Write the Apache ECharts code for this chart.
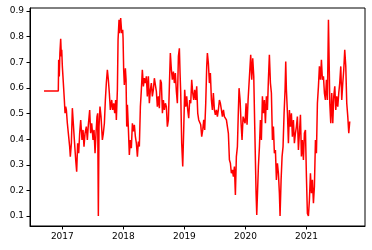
<!DOCTYPE html>
<html>
<head>
<meta charset="utf-8">
<script src="https://cdn.jsdelivr.net/npm/echarts@6/dist/echarts.min.js"></script>
<style>
html,body{margin:0;padding:0;background:#fff;}
#chart{width:372px;height:250px;}
</style>
</head>
<body>
<div id="chart"></div>
<script>
// decimal years
var years = [
2016.70,2016.934,2016.94,2016.95,2016.96,2016.973,2016.984,2016.99,2017.0,2017.01,2017.02,2017.033,2017.044,2017.055,2017.066,2017.082,2017.093,2017.12,2017.131,2017.148,2017.164,2017.186,2017.197,2017.219,2017.235,2017.251,2017.268,2017.284,2017.301,2017.322,2017.339,2017.355,2017.372,2017.393,2017.41,2017.426,2017.448,2017.464,2017.481,2017.503,2017.519,2017.536,2017.552,2017.568,2017.579,2017.59,2017.601,2017.617,2017.634,2017.656,2017.672,2017.689,2017.705,2017.721,2017.738,2017.754,2017.77,2017.787,2017.809,2017.825,2017.842,2017.858,2017.874,2017.885,2017.902,2017.913,2017.929,2017.94,2017.956,
2017.973,2017.989,2017.995,2018.005,2018.016,2018.033,2018.044,2018.055,2018.066,2018.082,2018.098,2018.115,2018.131,2018.148,2018.164,2018.18,2018.197,2018.213,2018.23,2018.246,2018.262,2018.279,2018.295,2018.311,2018.328,2018.344,2018.361,2018.377,2018.393,2018.41,2018.426,2018.443,2018.459,2018.475,2018.492,2018.508,2018.525,2018.541,2018.557,2018.574,2018.59,2018.607,2018.623,2018.64,2018.656,2018.672,2018.689,2018.705,2018.721,2018.738,2018.754,2018.77,2018.787,2018.803,2018.82,2018.836,2018.852,2018.869,2018.885,2018.902,2018.918,2018.929,2018.94,2018.956,2018.973,2018.989,
2019.005,2019.022,2019.038,2019.055,2019.071,2019.087,2019.104,2019.12,2019.137,2019.153,2019.169,2019.186,2019.202,2019.219,2019.235,2019.251,2019.268,2019.284,2019.301,2019.317,2019.333,2019.35,2019.366,2019.377,2019.393,2019.41,2019.426,2019.443,2019.459,2019.475,2019.492,2019.508,2019.525,2019.541,2019.557,2019.574,2019.59,2019.607,2019.623,2019.64,2019.656,2019.672,2019.689,2019.705,2019.721,2019.738,2019.754,2019.77,2019.787,2019.803,2019.82,2019.836,2019.852,2019.869,2019.885,2019.896,2019.913,2019.929,2019.945,2019.962,2019.978,2019.995,
2020.011,2020.027,2020.044,2020.055,2020.071,2020.087,2020.104,2020.12,2020.137,2020.153,2020.164,2020.175,2020.186,2020.202,2020.213,2020.23,2020.246,2020.262,2020.279,2020.295,2020.311,2020.328,2020.344,2020.361,2020.377,2020.393,2020.41,2020.426,2020.443,2020.459,2020.475,2020.492,2020.508,2020.525,2020.541,2020.557,2020.568,2020.585,2020.601,2020.617,2020.634,2020.65,2020.661,2020.672,2020.689,2020.705,2020.721,2020.738,2020.754,2020.77,2020.787,2020.803,2020.82,2020.836,2020.852,2020.869,2020.885,2020.902,2020.918,2020.934,2020.951,2020.967,2020.984,
2021.0,2021.016,2021.033,2021.049,2021.066,2021.082,2021.098,2021.115,2021.131,2021.148,2021.164,2021.18,2021.197,2021.213,2021.23,2021.246,2021.262,2021.279,2021.295,2021.311,2021.328,2021.344,2021.361,2021.372,2021.383,2021.399,2021.415,2021.432,2021.448,2021.465,2021.481,2021.497,2021.514,2021.53,2021.546,2021.563,2021.579,2021.596,2021.612,2021.628,2021.645,2021.661,2021.678,2021.694,2021.71
];
var values = [
0.588,0.588,0.710,0.645,0.736,0.792,0.723,0.749,0.684,0.645,0.645,0.553,0.501,0.527,0.514,0.462,0.456,0.371,0.332,0.384,0.521,0.521,0.397,0.319,0.273,0.384,0.345,0.423,0.475,0.397,0.436,0.371,0.423,0.449,0.397,0.456,0.514,0.423,0.462,0.397,0.436,0.345,0.423,0.488,0.501,0.100,0.449,0.527,0.488,0.397,0.423,0.462,0.553,0.619,0.671,0.632,0.580,0.514,0.553,0.514,0.540,0.501,0.553,0.475,0.593,0.788,0.866,0.814,0.873,
0.814,0.827,0.795,0.671,0.612,0.677,0.632,0.449,0.534,0.443,0.338,0.397,0.365,0.462,0.430,0.456,0.410,0.384,0.332,0.391,0.371,0.527,0.593,0.671,0.606,0.638,0.619,0.645,0.567,0.645,0.540,0.593,0.619,0.567,0.593,0.638,0.645,0.586,0.527,0.567,0.521,0.632,0.619,0.501,0.553,0.514,0.540,0.527,0.449,0.475,0.606,0.736,0.671,0.632,0.664,0.619,0.658,0.586,0.540,0.723,0.755,0.658,0.580,0.384,0.293,0.436,
0.593,0.527,0.567,0.514,0.482,0.553,0.540,0.632,0.580,0.553,0.593,0.553,0.606,0.501,0.475,0.482,0.456,0.410,0.436,0.475,0.436,0.540,0.684,0.736,0.697,0.619,0.658,0.553,0.514,0.580,0.514,0.495,0.514,0.488,0.514,0.553,0.540,0.514,0.488,0.514,0.488,0.495,0.475,0.449,0.423,0.319,0.306,0.267,0.280,0.254,0.293,0.182,0.332,0.371,0.514,0.599,0.553,0.462,0.397,0.488,0.475,0.462,
0.540,0.456,0.553,0.553,0.664,0.729,0.632,0.716,0.645,0.449,0.319,0.189,0.104,0.100,0.293,0.371,0.475,0.397,0.567,0.501,0.553,0.462,0.567,0.514,0.632,0.729,0.619,0.580,0.397,0.449,0.345,0.358,0.241,0.306,0.267,0.189,0.100,0.241,0.332,0.371,0.501,0.593,0.703,0.593,0.501,0.384,0.514,0.449,0.501,0.410,0.475,0.384,0.423,0.449,0.488,0.358,0.423,0.495,0.332,0.397,0.319,0.423,0.436,
0.254,0.110,0.100,0.163,0.267,0.189,0.241,0.150,0.215,0.397,0.345,0.540,0.606,0.684,0.632,0.710,0.632,0.645,0.580,0.553,0.632,0.553,0.866,0.710,0.540,0.462,0.580,0.462,0.567,0.606,0.514,0.567,0.527,0.580,0.619,0.684,0.553,0.619,0.671,0.749,0.684,0.540,0.488,0.423,0.469
];
var xTicks = [2017, 2018, 2019, 2020, 2021];
var yTicks = [0.1, 0.2, 0.3, 0.4, 0.5, 0.6, 0.7, 0.8, 0.9];

var data = years.map(function (y, i) { return [y, values[i]]; });

var chart = echarts.init(document.getElementById('chart'), null, {renderer: 'canvas'});
var labelStyle = {color: '#000', fontFamily: 'DejaVu Sans', fontSize: 9};
chart.setOption({
  animation: false,
  grid: {left: 30, right: 7, top: 8, bottom: 24, show: true, borderColor: '#000', borderWidth: 1, backgroundColor: 'transparent'},
  xAxis: {
    type: 'value', min: 2016.47, max: 2021.96,
    axisLine: {show: true, onZero: false, lineStyle: {color: '#000', width: 1}},
    axisTick: {show: true, customValues: xTicks, length: 3.5, lineStyle: {color: '#000', width: 1}},
    axisLabel: Object.assign({customValues: xTicks, margin: 6, formatter: function (v) { return String(Math.round(v)); }}, labelStyle),
    splitLine: {show: false}
  },
  yAxis: {
    type: 'value', min: 0.061, max: 0.912,
    axisLine: {show: true, lineStyle: {color: '#000', width: 1}},
    axisTick: {show: true, customValues: yTicks, length: 3.5, lineStyle: {color: '#000', width: 1}},
    axisLabel: Object.assign({customValues: yTicks, margin: 6, formatter: function (v) { return v.toFixed(1); }}, labelStyle),
    splitLine: {show: false}
  },
  series: [{
    type: 'line', data: data, showSymbol: false, symbol: 'none',
    lineStyle: {color: '#ff0000', width: 1.5},
    itemStyle: {color: '#ff0000'}
  }]
});
</script>
</body>
</html>
